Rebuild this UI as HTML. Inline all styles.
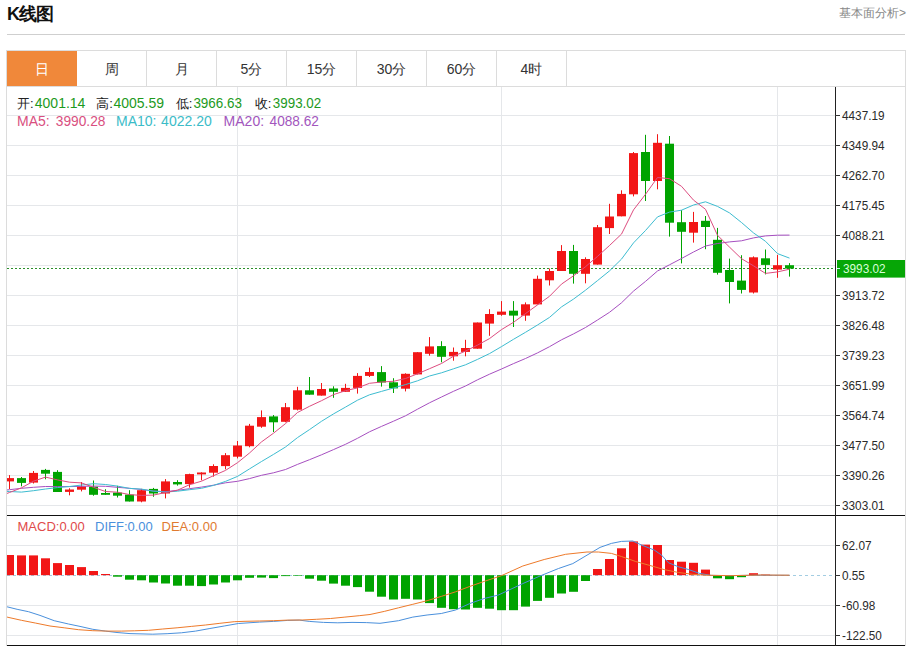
<!DOCTYPE html>
<html><head><meta charset="utf-8"><title>K线图</title>
<style>
html,body{margin:0;padding:0;background:#fff;}
body{width:911px;height:647px;overflow:hidden;position:relative;font-family:"Liberation Sans",sans-serif;}
svg{position:absolute;left:0;top:0;}
</style></head><body>
<svg width="911" height="647" viewBox="0 0 911 647" font-family="Liberation Sans, sans-serif">
<defs><clipPath id="cp"><rect x="7" y="87" width="828" height="428"/></clipPath>
<clipPath id="cp2"><rect x="7" y="516" width="828" height="129"/></clipPath></defs>
<!-- header -->
<text x="7" y="20" font-size="18" font-weight="bold" fill="#111" letter-spacing="-1">K线图</text>
<text x="906" y="17" font-size="12" fill="#888" text-anchor="end">基本面分析&gt;</text>
<rect x="7" y="34" width="898" height="1" fill="#cfcfcf"/>
<!-- box -->
<g shape-rendering="crispEdges">
<rect x="6" y="50" width="899" height="1" fill="#dcdcdc"/>
<rect x="6" y="86" width="899" height="1" fill="#dcdcdc"/>
<rect x="6" y="50" width="1" height="596" fill="#dcdcdc"/>
<rect x="905" y="50" width="1" height="596" fill="#dcdcdc"/>
<rect x="7" y="51" width="70" height="35" fill="#f0883a"/>
<rect x="146" y="51" width="1" height="35" fill="#dcdcdc"/><rect x="216" y="51" width="1" height="35" fill="#dcdcdc"/><rect x="286" y="51" width="1" height="35" fill="#dcdcdc"/><rect x="356" y="51" width="1" height="35" fill="#dcdcdc"/><rect x="426" y="51" width="1" height="35" fill="#dcdcdc"/><rect x="496" y="51" width="1" height="35" fill="#dcdcdc"/><rect x="566" y="51" width="1" height="35" fill="#dcdcdc"/>
</g>
<g font-size="14" fill="#333" text-anchor="middle">
<text x="41.5" y="74" fill="#fff">日</text>
<text x="111.5" y="74">周</text>
<text x="181.5" y="74">月</text>
<text x="251.5" y="74">5分</text>
<text x="321.5" y="74">15分</text>
<text x="391.5" y="74">30分</text>
<text x="461.5" y="74">60分</text>
<text x="531.5" y="74">4时</text>
</g>
<!-- grid -->
<g stroke="#e5e7ea" stroke-width="1" shape-rendering="crispEdges"><line x1="7" y1="115.5" x2="835" y2="115.5"/><line x1="7" y1="145.5" x2="835" y2="145.5"/><line x1="7" y1="175.5" x2="835" y2="175.5"/><line x1="7" y1="205.5" x2="835" y2="205.5"/><line x1="7" y1="235.5" x2="835" y2="235.5"/><line x1="7" y1="265.5" x2="835" y2="265.5"/><line x1="7" y1="295.5" x2="835" y2="295.5"/><line x1="7" y1="325.5" x2="835" y2="325.5"/><line x1="7" y1="355.5" x2="835" y2="355.5"/><line x1="7" y1="385.5" x2="835" y2="385.5"/><line x1="7" y1="415.5" x2="835" y2="415.5"/><line x1="7" y1="445.5" x2="835" y2="445.5"/><line x1="7" y1="475.5" x2="835" y2="475.5"/><line x1="7" y1="505.5" x2="835" y2="505.5"/><line x1="7" y1="545.5" x2="835" y2="545.5"/><line x1="7" y1="605.5" x2="835" y2="605.5"/><line x1="7" y1="635.5" x2="835" y2="635.5"/><line x1="237.5" y1="87" x2="237.5" y2="515"/><line x1="237.5" y1="516" x2="237.5" y2="645"/><line x1="501.5" y1="87" x2="501.5" y2="515"/><line x1="501.5" y1="516" x2="501.5" y2="645"/><line x1="777.5" y1="87" x2="777.5" y2="515"/><line x1="777.5" y1="516" x2="777.5" y2="645"/></g>
<!-- candles -->
<g clip-path="url(#cp)"><line x1="7" y1="268.5" x2="835" y2="268.5" stroke="#2a8f2a" stroke-width="1" stroke-dasharray="2,2"/><rect x="9" y="475.1" width="1" height="13.9" fill="#f21616"/><rect x="5" y="478.1" width="9" height="3.3" fill="#f21616"/><rect x="21" y="477.0" width="1" height="9.3" fill="#00a300"/><rect x="17" y="478.1" width="9" height="4.8" fill="#00a300"/><rect x="33" y="471.0" width="1" height="12.5" fill="#f21616"/><rect x="29" y="472.9" width="9" height="9.7" fill="#f21616"/><rect x="45" y="468.9" width="1" height="10.4" fill="#00a300"/><rect x="41" y="469.9" width="9" height="3.8" fill="#00a300"/><rect x="57" y="470.2" width="1" height="21.8" fill="#00a300"/><rect x="53" y="471.9" width="9" height="20.1" fill="#00a300"/><rect x="69" y="488.3" width="1" height="7.0" fill="#f21616"/><rect x="65" y="489.5" width="9" height="2.4" fill="#f21616"/><rect x="81" y="482.0" width="1" height="9.4" fill="#f21616"/><rect x="77" y="486.4" width="9" height="3.3" fill="#f21616"/><rect x="93" y="480.5" width="1" height="15.2" fill="#00a300"/><rect x="89" y="486.7" width="9" height="8.1" fill="#00a300"/><rect x="105" y="489.2" width="1" height="5.6" fill="#00a300"/><rect x="101" y="493.0" width="9" height="1.8" fill="#00a300"/><rect x="117" y="485.8" width="1" height="11.7" fill="#00a300"/><rect x="113" y="492.6" width="9" height="3.1" fill="#00a300"/><rect x="129" y="490.2" width="1" height="11.3" fill="#00a300"/><rect x="125" y="494.6" width="9" height="6.9" fill="#00a300"/><rect x="141" y="488.8" width="1" height="13.5" fill="#f21616"/><rect x="137" y="490.2" width="9" height="11.3" fill="#f21616"/><rect x="153" y="487.9" width="1" height="8.9" fill="#00a300"/><rect x="149" y="488.9" width="9" height="4.6" fill="#00a300"/><rect x="165" y="479.1" width="1" height="19.3" fill="#f21616"/><rect x="161" y="481.4" width="9" height="12.1" fill="#f21616"/><rect x="177" y="480.2" width="1" height="5.4" fill="#00a300"/><rect x="173" y="482.0" width="9" height="2.4" fill="#00a300"/><rect x="189" y="473.7" width="1" height="13.9" fill="#f21616"/><rect x="185" y="474.1" width="9" height="10.0" fill="#f21616"/><rect x="201" y="472.3" width="1" height="8.0" fill="#f21616"/><rect x="197" y="472.5" width="9" height="1.9" fill="#f21616"/><rect x="213" y="464.3" width="1" height="12.3" fill="#f21616"/><rect x="209" y="466.0" width="9" height="6.7" fill="#f21616"/><rect x="225" y="453.1" width="1" height="16.2" fill="#f21616"/><rect x="221" y="455.2" width="9" height="10.9" fill="#f21616"/><rect x="237" y="441.0" width="1" height="17.4" fill="#f21616"/><rect x="233" y="445.5" width="9" height="11.2" fill="#f21616"/><rect x="249" y="423.9" width="1" height="23.4" fill="#f21616"/><rect x="245" y="425.7" width="9" height="20.5" fill="#f21616"/><rect x="261" y="410.4" width="1" height="17.4" fill="#f21616"/><rect x="257" y="417.1" width="9" height="9.6" fill="#f21616"/><rect x="273" y="415.0" width="1" height="17.0" fill="#00a300"/><rect x="269" y="416.4" width="9" height="5.9" fill="#00a300"/><rect x="285" y="403.0" width="1" height="19.3" fill="#f21616"/><rect x="281" y="407.2" width="9" height="14.6" fill="#f21616"/><rect x="297" y="386.8" width="1" height="23.6" fill="#f21616"/><rect x="293" y="390.3" width="9" height="19.4" fill="#f21616"/><rect x="309" y="377.0" width="1" height="17.7" fill="#00a300"/><rect x="305" y="390.3" width="9" height="4.4" fill="#00a300"/><rect x="321" y="383.0" width="1" height="12.6" fill="#f21616"/><rect x="317" y="389.0" width="9" height="6.6" fill="#f21616"/><rect x="333" y="386.3" width="1" height="11.5" fill="#00a300"/><rect x="329" y="388.5" width="9" height="3.3" fill="#00a300"/><rect x="345" y="383.8" width="1" height="8.0" fill="#f21616"/><rect x="341" y="387.9" width="9" height="3.9" fill="#f21616"/><rect x="357" y="373.1" width="1" height="20.5" fill="#f21616"/><rect x="353" y="375.9" width="9" height="12.0" fill="#f21616"/><rect x="369" y="367.6" width="1" height="9.4" fill="#f21616"/><rect x="365" y="372.0" width="9" height="3.9" fill="#f21616"/><rect x="381" y="366.1" width="1" height="20.5" fill="#00a300"/><rect x="377" y="372.1" width="9" height="10.4" fill="#00a300"/><rect x="393" y="378.2" width="1" height="14.8" fill="#00a300"/><rect x="389" y="382.3" width="9" height="6.1" fill="#00a300"/><rect x="405" y="373.3" width="1" height="18.1" fill="#f21616"/><rect x="401" y="373.8" width="9" height="14.9" fill="#f21616"/><rect x="417" y="352.2" width="1" height="22.2" fill="#f21616"/><rect x="413" y="352.2" width="9" height="22.2" fill="#f21616"/><rect x="429" y="337.1" width="1" height="18.6" fill="#f21616"/><rect x="425" y="346.4" width="9" height="7.4" fill="#f21616"/><rect x="441" y="341.2" width="1" height="21.1" fill="#00a300"/><rect x="437" y="346.1" width="9" height="10.7" fill="#00a300"/><rect x="453" y="347.5" width="1" height="13.2" fill="#f21616"/><rect x="449" y="351.9" width="9" height="4.4" fill="#f21616"/><rect x="465" y="339.8" width="1" height="16.5" fill="#f21616"/><rect x="461" y="348.0" width="9" height="3.9" fill="#f21616"/><rect x="477" y="322.5" width="1" height="26.2" fill="#f21616"/><rect x="473" y="322.5" width="9" height="26.2" fill="#f21616"/><rect x="489" y="309.2" width="1" height="26.6" fill="#f21616"/><rect x="485" y="314.0" width="9" height="9.6" fill="#f21616"/><rect x="501" y="301.1" width="1" height="14.7" fill="#f21616"/><rect x="497" y="311.6" width="9" height="3.2" fill="#f21616"/><rect x="513" y="301.1" width="1" height="25.9" fill="#00a300"/><rect x="509" y="310.7" width="9" height="4.9" fill="#00a300"/><rect x="525" y="302.4" width="1" height="18.4" fill="#f21616"/><rect x="521" y="304.3" width="9" height="11.3" fill="#f21616"/><rect x="537" y="275.6" width="1" height="28.8" fill="#f21616"/><rect x="533" y="278.8" width="9" height="25.6" fill="#f21616"/><rect x="549" y="268.5" width="1" height="17.0" fill="#f21616"/><rect x="545" y="271.0" width="9" height="9.3" fill="#f21616"/><rect x="561" y="245.1" width="1" height="25.9" fill="#f21616"/><rect x="557" y="251.0" width="9" height="20.0" fill="#f21616"/><rect x="573" y="244.9" width="1" height="38.7" fill="#00a300"/><rect x="569" y="251.0" width="9" height="22.8" fill="#00a300"/><rect x="585" y="257.3" width="1" height="26.0" fill="#f21616"/><rect x="581" y="259.0" width="9" height="14.8" fill="#f21616"/><rect x="597" y="225.0" width="1" height="39.6" fill="#f21616"/><rect x="593" y="227.2" width="9" height="37.4" fill="#f21616"/><rect x="609" y="203.8" width="1" height="30.2" fill="#f21616"/><rect x="605" y="216.5" width="9" height="11.6" fill="#f21616"/><rect x="621" y="190.3" width="1" height="26.0" fill="#f21616"/><rect x="617" y="193.9" width="9" height="22.4" fill="#f21616"/><rect x="633" y="152.0" width="1" height="44.4" fill="#f21616"/><rect x="629" y="153.1" width="9" height="41.2" fill="#f21616"/><rect x="645" y="134.8" width="1" height="66.2" fill="#00a300"/><rect x="641" y="152.0" width="9" height="29.0" fill="#00a300"/><rect x="657" y="134.2" width="1" height="55.1" fill="#f21616"/><rect x="653" y="142.8" width="9" height="38.2" fill="#f21616"/><rect x="669" y="136.0" width="1" height="100.6" fill="#00a300"/><rect x="665" y="143.7" width="9" height="79.0" fill="#00a300"/><rect x="681" y="210.1" width="1" height="53.3" fill="#00a300"/><rect x="677" y="222.2" width="9" height="9.6" fill="#00a300"/><rect x="693" y="211.9" width="1" height="30.7" fill="#f21616"/><rect x="689" y="222.0" width="9" height="10.7" fill="#f21616"/><rect x="705" y="216.0" width="1" height="33.2" fill="#00a300"/><rect x="701" y="220.8" width="9" height="6.2" fill="#00a300"/><rect x="717" y="227.9" width="1" height="46.7" fill="#00a300"/><rect x="713" y="239.8" width="9" height="33.0" fill="#00a300"/><rect x="729" y="258.6" width="1" height="44.8" fill="#00a300"/><rect x="725" y="270.0" width="9" height="12.0" fill="#00a300"/><rect x="741" y="255.2" width="1" height="38.3" fill="#00a300"/><rect x="737" y="280.6" width="9" height="9.3" fill="#00a300"/><rect x="753" y="256.4" width="1" height="37.1" fill="#f21616"/><rect x="749" y="257.3" width="9" height="35.2" fill="#f21616"/><rect x="765" y="249.5" width="1" height="24.9" fill="#00a300"/><rect x="761" y="258.3" width="9" height="6.6" fill="#00a300"/><rect x="777" y="254.9" width="1" height="22.9" fill="#f21616"/><rect x="773" y="265.2" width="9" height="4.4" fill="#f21616"/><rect x="789" y="263.1" width="1" height="13.5" fill="#00a300"/><rect x="785" y="265.2" width="9" height="3.4" fill="#00a300"/>
<polyline points="-2.5,491.0 9.5,489.7 21.5,488.3 33.5,487.3 45.5,486.5 57.5,486.6 69.5,486.6 81.5,486.3 93.5,486.1 105.5,486.3 117.5,487.3 129.5,488.3 141.5,489.5 153.5,491.0 165.5,491.7 177.5,490.3 189.5,488.7 201.5,487.1 213.5,485.2 225.5,482.8 237.5,481.3 249.5,478.6 261.5,475.3 273.5,472.8 285.5,469.5 297.5,464.4 309.5,459.7 321.5,454.8 333.5,449.6 345.5,444.3 357.5,438.3 369.5,431.8 381.5,426.4 393.5,421.2 405.5,415.8 417.5,409.2 429.5,402.8 441.5,397.0 453.5,391.3 465.5,386.0 477.5,379.8 489.5,374.2 501.5,369.0 513.5,363.6 525.5,358.5 537.5,352.9 549.5,346.7 561.5,339.8 573.5,333.9 585.5,327.5 597.5,320.0 609.5,312.3 621.5,302.8 633.5,291.1 645.5,281.4 657.5,271.0 669.5,264.8 681.5,258.5 693.5,252.0 705.5,246.0 717.5,243.5 729.5,241.9 741.5,240.8 753.5,237.9 765.5,235.9 777.5,235.2 789.5,235.1" fill="none" stroke="#a64fc0" stroke-width="1"/>
<polyline points="-2.5,491.0 9.5,491.5 21.5,492.1 33.5,490.7 45.5,489.0 57.5,487.6 69.5,486.5 81.5,485.0 93.5,483.7 105.5,484.5 117.5,486.1 129.5,488.4 141.5,489.1 153.5,491.2 165.5,492.0 177.5,491.2 189.5,489.7 201.5,488.3 213.5,485.4 225.5,481.4 237.5,476.4 249.5,468.9 261.5,461.5 273.5,454.4 285.5,447.0 297.5,437.6 309.5,429.6 321.5,421.3 333.5,413.9 345.5,407.1 357.5,400.2 369.5,394.8 381.5,391.4 393.5,388.0 405.5,384.6 417.5,380.8 429.5,376.0 441.5,372.8 453.5,368.8 465.5,364.8 477.5,359.4 489.5,353.6 501.5,346.6 513.5,339.3 525.5,332.3 537.5,325.0 549.5,317.4 561.5,306.9 573.5,299.1 585.5,290.2 597.5,280.6 609.5,270.9 621.5,259.1 633.5,242.9 645.5,230.5 657.5,216.9 669.5,212.1 681.5,210.2 693.5,205.0 705.5,201.8 717.5,206.4 729.5,212.9 741.5,222.5 753.5,232.9 765.5,241.3 777.5,253.6 789.5,258.1" fill="none" stroke="#3dbcd0" stroke-width="1"/>
<polyline points="-2.5,497.0 9.5,492.5 21.5,487.8 33.5,481.2 45.5,477.1 57.5,479.9 69.5,482.2 81.5,482.9 93.5,487.3 105.5,491.5 117.5,492.2 129.5,494.6 141.5,495.4 153.5,495.1 165.5,492.5 177.5,490.2 189.5,484.7 201.5,481.2 213.5,475.7 225.5,470.4 237.5,462.7 249.5,453.0 261.5,441.9 273.5,433.2 285.5,423.6 297.5,412.5 309.5,406.3 321.5,400.7 333.5,394.6 345.5,390.7 357.5,387.9 369.5,383.3 381.5,382.0 393.5,381.3 405.5,378.5 417.5,373.8 429.5,368.7 441.5,363.5 453.5,356.2 465.5,351.1 477.5,345.1 489.5,338.6 501.5,329.6 513.5,322.3 525.5,313.6 537.5,304.9 549.5,296.3 561.5,284.1 573.5,275.8 585.5,266.7 597.5,256.4 609.5,245.5 621.5,234.1 633.5,209.9 645.5,194.3 657.5,177.5 669.5,178.7 681.5,186.3 693.5,200.1 705.5,209.3 717.5,235.3 729.5,247.1 741.5,258.7 753.5,265.8 765.5,273.4 777.5,271.9 789.5,269.2" fill="none" stroke="#dd4d80" stroke-width="1"/>
</g>
<!-- macd -->
<g clip-path="url(#cp2)">
<line x1="7" y1="575.5" x2="835" y2="575.5" stroke="#a3cde2" stroke-width="1" stroke-dasharray="3,3"/>
<rect x="5" y="555.0" width="9" height="20.2" fill="#f21616"/><rect x="17" y="555.4" width="9" height="19.8" fill="#f21616"/><rect x="29" y="555.4" width="9" height="19.8" fill="#f21616"/><rect x="41" y="558.3" width="9" height="16.9" fill="#f21616"/><rect x="53" y="563.1" width="9" height="12.1" fill="#f21616"/><rect x="65" y="565.0" width="9" height="10.2" fill="#f21616"/><rect x="77" y="567.1" width="9" height="8.1" fill="#f21616"/><rect x="89" y="571.0" width="9" height="4.2" fill="#f21616"/><rect x="101" y="574.0" width="9" height="1.2" fill="#f21616"/><rect x="113" y="575.2" width="9" height="1.5" fill="#00a300"/><rect x="125" y="575.2" width="9" height="4.5" fill="#00a300"/><rect x="137" y="575.2" width="9" height="5.1" fill="#00a300"/><rect x="149" y="575.2" width="9" height="7.3" fill="#00a300"/><rect x="161" y="575.2" width="9" height="8.3" fill="#00a300"/><rect x="173" y="575.2" width="9" height="10.5" fill="#00a300"/><rect x="185" y="575.2" width="9" height="10.5" fill="#00a300"/><rect x="197" y="575.2" width="9" height="10.9" fill="#00a300"/><rect x="209" y="575.2" width="9" height="9.3" fill="#00a300"/><rect x="221" y="575.2" width="9" height="7.3" fill="#00a300"/><rect x="233" y="575.2" width="9" height="5.1" fill="#00a300"/><rect x="245" y="575.2" width="9" height="2.6" fill="#00a300"/><rect x="257" y="575.2" width="9" height="2.4" fill="#00a300"/><rect x="269" y="575.2" width="9" height="2.9" fill="#00a300"/><rect x="281" y="575.2" width="9" height="0.9" fill="#00a300"/><rect x="293" y="575.2" width="9" height="0.6" fill="#00a300"/><rect x="305" y="575.2" width="9" height="3.5" fill="#00a300"/><rect x="317" y="575.2" width="9" height="5.5" fill="#00a300"/><rect x="329" y="575.2" width="9" height="8.4" fill="#00a300"/><rect x="341" y="575.2" width="9" height="10.5" fill="#00a300"/><rect x="353" y="575.2" width="9" height="11.9" fill="#00a300"/><rect x="365" y="575.2" width="9" height="16.5" fill="#00a300"/><rect x="377" y="575.2" width="9" height="21.5" fill="#00a300"/><rect x="389" y="575.2" width="9" height="24.3" fill="#00a300"/><rect x="401" y="575.2" width="9" height="23.6" fill="#00a300"/><rect x="413" y="575.2" width="9" height="24.3" fill="#00a300"/><rect x="425" y="575.2" width="9" height="27.9" fill="#00a300"/><rect x="437" y="575.2" width="9" height="32.6" fill="#00a300"/><rect x="449" y="575.2" width="9" height="34.0" fill="#00a300"/><rect x="461" y="575.2" width="9" height="34.3" fill="#00a300"/><rect x="473" y="575.2" width="9" height="32.6" fill="#00a300"/><rect x="485" y="575.2" width="9" height="33.5" fill="#00a300"/><rect x="497" y="575.2" width="9" height="35.0" fill="#00a300"/><rect x="509" y="575.2" width="9" height="35.0" fill="#00a300"/><rect x="521" y="575.2" width="9" height="31.4" fill="#00a300"/><rect x="533" y="575.2" width="9" height="25.7" fill="#00a300"/><rect x="545" y="575.2" width="9" height="22.6" fill="#00a300"/><rect x="557" y="575.2" width="9" height="18.3" fill="#00a300"/><rect x="569" y="575.2" width="9" height="16.6" fill="#00a300"/><rect x="581" y="575.2" width="9" height="5.8" fill="#00a300"/><rect x="593" y="569.0" width="9" height="6.2" fill="#f21616"/><rect x="605" y="559.0" width="9" height="16.2" fill="#f21616"/><rect x="617" y="548.3" width="9" height="26.9" fill="#f21616"/><rect x="629" y="541.4" width="9" height="33.8" fill="#f21616"/><rect x="641" y="544.6" width="9" height="30.6" fill="#f21616"/><rect x="653" y="545.0" width="9" height="30.2" fill="#f21616"/><rect x="665" y="560.0" width="9" height="15.2" fill="#f21616"/><rect x="677" y="561.7" width="9" height="13.5" fill="#f21616"/><rect x="689" y="562.8" width="9" height="12.4" fill="#f21616"/><rect x="701" y="569.6" width="9" height="5.6" fill="#f21616"/><rect x="713" y="575.2" width="9" height="3.1" fill="#00a300"/><rect x="725" y="575.2" width="9" height="4.0" fill="#00a300"/><rect x="737" y="575.2" width="9" height="2.0" fill="#00a300"/><rect x="749" y="573.2" width="9" height="2.0" fill="#f21616"/><rect x="761" y="574.6" width="9" height="0.6" fill="#f21616"/>
<polyline points="-3.0,604.5 7.1,606.8 17.1,609.3 28.5,611.7 40.0,615.4 54.2,620.7 68.5,624.0 80.0,626.4 92.8,629.3 105.6,631.1 117.0,632.5 130.0,633.6 152.8,634.2 167.1,633.7 181.4,632.8 195.6,631.1 209.9,628.5 224.2,626.0 238.4,623.5 259.3,622.1 273.5,621.4 287.8,620.4 299.2,620.1 309.2,621.4 323.5,622.4 337.8,622.8 352.0,622.4 366.3,622.6 380.0,623.3 398.5,620.7 412.8,617.1 427.1,615.0 441.3,613.5 455.6,610.0 469.9,603.5 484.2,598.5 498.4,595.0 522.8,583.6 540.0,576.0 558.5,568.5 572.8,563.6 591.3,552.6 600.0,547.4 611.4,543.4 621.4,541.4 632.8,541.0 641.4,545.0 654.2,550.0 661.4,555.0 668.5,562.8 678.5,566.8 688.5,569.5 699.9,573.5 711.3,575.4 730.0,575.6 760.0,575.2 789.5,575.3" fill="none" stroke="#4a90dc" stroke-width="1"/>
<polyline points="-3.0,614.5 7.1,617.1 21.4,620.3 35.7,623.1 50.0,626.0 64.2,627.8 78.5,629.7 92.8,630.7 107.0,631.1 121.3,631.1 134.3,630.8 148.5,630.3 162.8,629.0 177.1,627.8 191.3,626.4 205.6,625.0 219.9,623.3 234.2,621.7 245.0,621.3 259.3,621.0 273.5,620.7 287.8,620.1 302.1,620.0 316.3,619.3 330.6,618.5 344.9,617.1 359.2,615.7 370.0,614.5 384.3,611.4 398.5,607.8 412.8,604.3 427.1,600.7 441.3,596.4 455.6,591.8 469.9,586.4 484.2,581.4 501.4,575.7 522.8,566.0 544.2,559.5 565.6,554.3 587.0,552.0 598.4,552.0 611.4,553.4 621.4,556.5 635.7,561.5 650.0,565.5 664.2,569.6 678.5,572.5 692.8,574.3 707.0,575.2 730.0,575.7 760.0,575.0 789.5,575.2" fill="none" stroke="#ee7a2a" stroke-width="1"/>
</g>
<!-- axes -->
<g shape-rendering="crispEdges">
<rect x="7" y="515" width="828" height="1" fill="#111"/>
<rect x="835" y="515" width="70" height="1" fill="#111"/>
<rect x="7" y="645" width="898" height="1" fill="#111"/>
<rect x="835" y="87" width="1" height="559" fill="#222"/>
</g>
<g stroke="#333" stroke-width="1" shape-rendering="crispEdges"><line x1="835" y1="115.5" x2="840" y2="115.5"/><line x1="835" y1="145.5" x2="840" y2="145.5"/><line x1="835" y1="175.5" x2="840" y2="175.5"/><line x1="835" y1="205.5" x2="840" y2="205.5"/><line x1="835" y1="235.5" x2="840" y2="235.5"/><line x1="835" y1="295.5" x2="840" y2="295.5"/><line x1="835" y1="325.5" x2="840" y2="325.5"/><line x1="835" y1="355.5" x2="840" y2="355.5"/><line x1="835" y1="385.5" x2="840" y2="385.5"/><line x1="835" y1="415.5" x2="840" y2="415.5"/><line x1="835" y1="445.5" x2="840" y2="445.5"/><line x1="835" y1="475.5" x2="840" y2="475.5"/><line x1="835" y1="505.5" x2="840" y2="505.5"/><line x1="835" y1="545.5" x2="840" y2="545.5"/><line x1="835" y1="575.5" x2="840" y2="575.5"/><line x1="835" y1="605.5" x2="840" y2="605.5"/><line x1="835" y1="635.5" x2="840" y2="635.5"/></g>
<g font-size="12.6" fill="#2a2a2a"><text x="842" y="119.9" textLength="42.6" lengthAdjust="spacingAndGlyphs">4437.19</text><text x="842" y="149.9" textLength="42.6" lengthAdjust="spacingAndGlyphs">4349.94</text><text x="842" y="179.9" textLength="42.6" lengthAdjust="spacingAndGlyphs">4262.70</text><text x="842" y="209.9" textLength="42.6" lengthAdjust="spacingAndGlyphs">4175.45</text><text x="842" y="239.9" textLength="42.6" lengthAdjust="spacingAndGlyphs">4088.21</text><text x="842" y="299.9" textLength="42.6" lengthAdjust="spacingAndGlyphs">3913.72</text><text x="842" y="329.9" textLength="42.6" lengthAdjust="spacingAndGlyphs">3826.48</text><text x="842" y="359.9" textLength="42.6" lengthAdjust="spacingAndGlyphs">3739.23</text><text x="842" y="389.9" textLength="42.6" lengthAdjust="spacingAndGlyphs">3651.99</text><text x="842" y="419.9" textLength="42.6" lengthAdjust="spacingAndGlyphs">3564.74</text><text x="842" y="449.9" textLength="42.6" lengthAdjust="spacingAndGlyphs">3477.50</text><text x="842" y="479.9" textLength="42.6" lengthAdjust="spacingAndGlyphs">3390.26</text><text x="842" y="509.9" textLength="42.6" lengthAdjust="spacingAndGlyphs">3303.01</text><text x="842" y="549.9" textLength="29.5" lengthAdjust="spacingAndGlyphs">62.07</text><text x="842" y="579.9" textLength="22.9" lengthAdjust="spacingAndGlyphs">0.55</text><text x="842" y="609.9" textLength="33.4" lengthAdjust="spacingAndGlyphs">-60.98</text><text x="842" y="639.9" textLength="39.9" lengthAdjust="spacingAndGlyphs">-122.50</text></g>
<rect x="837" y="260" width="68" height="17.6" fill="#06a606"/>
<line x1="837" y1="268.5" x2="840" y2="268.5" stroke="#cfe" stroke-width="1"/>
<text x="843" y="273" font-size="12.6" fill="#d8ffd8" textLength="42.6" lengthAdjust="spacingAndGlyphs">3993.02</text>
<!-- info -->
<g font-size="13" fill="#222">
<text x="17" y="108">开:</text>
<text x="96.3" y="108">高:</text>
<text x="175.7" y="108">低:</text>
<text x="254.8" y="108">收:</text>
</g>
<g font-size="14" fill="#1d9a1d">
<text x="34.8" y="108">4001.14</text>
<text x="113.4" y="108">4005.59</text>
<text x="193.4" y="108" textLength="48.6" lengthAdjust="spacingAndGlyphs">3966.63</text>
<text x="272.8" y="108" textLength="48.4" lengthAdjust="spacingAndGlyphs">3993.02</text>
</g>
<g font-size="14">
<text x="17" y="125.5" fill="#d94f80">MA5:</text>
<text x="55.8" y="125.5" fill="#d94f80" textLength="49.6" lengthAdjust="spacingAndGlyphs">3990.28</text>
<text x="116" y="125.5" fill="#3bbcc8">MA10:</text>
<text x="161.1" y="125.5" fill="#3bbcc8">4022.20</text>
<text x="223.6" y="125.5" fill="#a256bd">MA20:</text>
<text x="269.6" y="125.5" fill="#a256bd" textLength="49.3" lengthAdjust="spacingAndGlyphs">4088.62</text>
</g>
<g font-size="13">
<text x="17.5" y="531" fill="#e04a4a">MACD:0.00</text>
<text x="95" y="531" fill="#4a90dc">DIFF:0.00</text>
<text x="161.5" y="531" fill="#e07a30">DEA:0.00</text>
</g>
</svg>
</body></html>
